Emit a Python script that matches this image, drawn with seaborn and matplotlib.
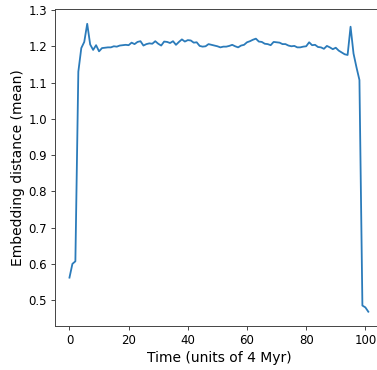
import matplotlib
matplotlib.use("Agg")
import matplotlib.pyplot as plt
import seaborn as sns
import pandas as pd

time_steps = list(range(102))
embedding_mean = [
    0.562, 0.600, 0.607, 1.130, 1.195, 1.212, 1.262, 1.205, 1.190, 1.203,
    1.186, 1.195, 1.196, 1.197, 1.197, 1.200, 1.199, 1.202, 1.203, 1.204,
    1.203, 1.210, 1.206, 1.212, 1.214, 1.202, 1.206, 1.208, 1.207, 1.214,
    1.207, 1.202, 1.213, 1.212, 1.209, 1.214, 1.204, 1.212, 1.219, 1.213,
    1.217, 1.216, 1.210, 1.211, 1.201, 1.199, 1.200, 1.206, 1.204, 1.202,
    1.200, 1.197, 1.199, 1.199, 1.201, 1.204, 1.200, 1.197, 1.202, 1.204,
    1.211, 1.214, 1.218, 1.221, 1.213, 1.212, 1.207, 1.206, 1.203, 1.212,
    1.211, 1.210, 1.206, 1.206, 1.202, 1.200, 1.201, 1.197, 1.197, 1.199,
    1.200, 1.211, 1.203, 1.204, 1.198, 1.197, 1.193, 1.201, 1.197, 1.192,
    1.196, 1.188, 1.183, 1.178, 1.176, 1.254, 1.180, 1.142, 1.107, 0.485,
    0.480, 0.468,
]
x_label = "Time (units of 4 Myr)"
y_label = "Embedding distance (mean)"

df = pd.DataFrame({"t": time_steps, "d": embedding_mean})

fig = plt.figure(figsize=(3.77, 3.70), dpi=100)
ax = fig.add_axes([0.1446, 0.1186, 0.872, 0.856])
sns.lineplot(data=df, x="t", y="d", ax=ax, color="#2b7bba", linewidth=1.3)
ax.set_xlim(-5.05, 106.05)
ax.set_xlabel(x_label, fontsize=10, labelpad=3)
ax.set_ylabel(y_label, fontsize=10, labelpad=2.5)
ax.set_xticks([0, 20, 40, 60, 80, 100])
ax.set_yticks([0.5, 0.6, 0.7, 0.8, 0.9, 1.0, 1.1, 1.2, 1.3])
ax.tick_params(labelsize=8.5, length=2.8, width=0.7, pad=2.6, color="#444444")
for s in ax.spines.values():
    s.set_color("#444444")
    s.set_linewidth(0.7)
fig.savefig("out.png", dpi=100)
